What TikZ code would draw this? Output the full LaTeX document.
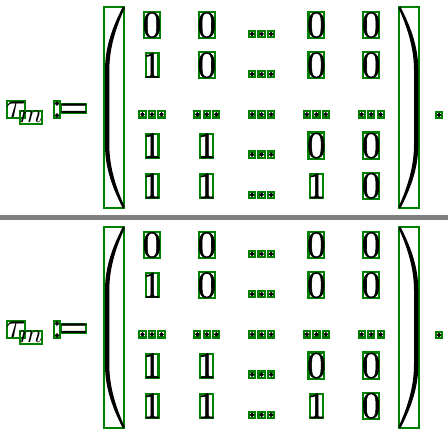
\documentclass[tikz,border=0pt]{standalone}
\usepackage{graphicx}
\usepackage{tikz}
\definecolor{boxgreen}{RGB}{0,128,0}
\font\inkfont="[lmroman10-regular.otf]:embolden=1.5" at 37pt
\newsavebox\inkbox
% glyph centred on its ink, no size of its own
\newcommand\ink[2][\relax]{\sbox\inkbox{#2}%
  \ifx\relax#1\dimen0=\dimexpr(\dp\inkbox-\ht\inkbox)/2\relax\else\dimen0=-#1\relax\fi
  \smash{\makebox[0pt]{\raisebox{\dimen0}{\usebox\inkbox}}}}
% big bracket, around its centre
\newcommand\parenpath{(9,-101) .. controls (0,-83.5) and (-9,-62.5) .. (-9,-37.5) -- (-9,37.5)
  .. controls (-9,62.5) and (0,83.5) .. (9,101) -- (10.8,99.5)
  .. controls (3.5,83.5) and (-4.7,61.5) .. (-4.7,37.5) -- (-4.7,-37.5)
  .. controls (-4.7,-61.5) and (3.5,-83.5) .. (10.8,-99.5) -- cycle}
\newcommand\formula{%
  \node[gbox={17.6}{16.9}] (tau) at (15.9,109.5) {\ink{\resizebox{!}{15.6pt}{$\tau$}}};
  \node[gbox={21.6}{12.6}] (sub) at (30.8,117.3) {\ink{\resizebox{!}{11.4pt}{$m$}}};
  \node[gbox={5.3}{16.9}] (colon) at (57,109.5) {\ink{:}};
  \node[gbox={25.2}{9.2}] (eq) at (73.7,108.3) {\ink[.25em]{=}};
  \node[paren] (lp) at (114,107.5) {};
  \node[paren] (rp) at (409.3,107.5) {};
  \fill[shift={(114,107.5)}] \parenpath;
  \fill[shift={(409.3,107.5)},xscale=-1] \parenpath;
  \foreach \c/\r in {1/1,2/1,4/1,5/1,2/2,4/2,5/2,4/4,5/4,5/5}
    \node[zero] (a\r\c) at ({152+54.8*(\c-1)},{25+40.2*(\r-1)}) {\ink{0}};
  \foreach \c/\r in {1/2,1/4,2/4,1/5,2/5,4/5}
    \node[one] (a\r\c) at ({152+54.8*(\c-1)},{25+40.2*(\r-1)}) {\ink{1}};
  \foreach \c/\r in {3/1,3/2,1/3,2/3,3/3,4/3,5/3,3/4,3/5}
    \foreach \k in {-1,0,1}
      \node[dotbox] (d\r\c\k) at ({152+54.8*(\c-1)+9.5*\k},{34+40.2*(\r-1)}) {\ink{.}};
  \node[dotbox] (stop) at (439,115) {\ink{.}};
}

\begin{document}
\begin{tikzpicture}[x=1pt,y=-1pt,
    gbox/.style 2 args={draw=boxgreen,line width=2.1pt,inner sep=0pt,minimum width=#1,minimum height=#2,font=\inkfont},
    zero/.style={gbox={15.9}{26.2}},
    one/.style={gbox={12.9}{23.9}},
    dotbox/.style={gbox={6.2}{6.2}},
    paren/.style={gbox={20.2}{201.2}}]
  \useasboundingbox (0,0) rectangle (448,435);
  \begin{scope}[name prefix=top-] %upper copy
    \formula
  \end{scope}
  \coordinate (sepL) at (0,217.5);
  \coordinate (sepR) at (448,217.5);
  \draw[gray,line width=4.5pt] (sepL)--(sepR); %grey rule
  \begin{scope}[shift={(0,220)},name prefix=bot-] %lower copy
    \formula
  \end{scope}
\end{tikzpicture}
\end{document}
